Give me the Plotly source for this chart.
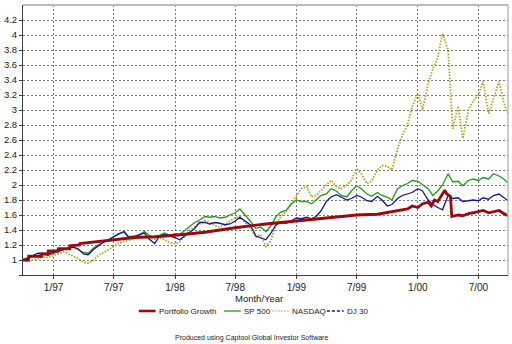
import plotly.graph_objects as go

# ---------------- data ----------------
dates = [
    "1996-10-01", "1996-10-15", "1996-11-01", "1996-11-15", "1996-12-01", "1996-12-15",
    "1997-01-01", "1997-01-15", "1997-02-01", "1997-02-15", "1997-03-01", "1997-03-15",
    "1997-04-01", "1997-04-15", "1997-05-01", "1997-05-15", "1997-06-01", "1997-06-15",
    "1997-07-01", "1997-07-15", "1997-08-01", "1997-08-15", "1997-09-01", "1997-09-15",
    "1997-10-01", "1997-10-15", "1997-11-01", "1997-11-15", "1997-12-01", "1997-12-15",
    "1998-01-01", "1998-01-15", "1998-02-01", "1998-02-15", "1998-03-01", "1998-03-15",
    "1998-04-01", "1998-04-15", "1998-05-01", "1998-05-15", "1998-06-01", "1998-06-15",
    "1998-07-01", "1998-07-15", "1998-08-01", "1998-08-15", "1998-09-01", "1998-09-15",
    "1998-10-01", "1998-10-15", "1998-11-01", "1998-11-15", "1998-12-01", "1998-12-15",
    "1999-01-01", "1999-01-15", "1999-02-01", "1999-02-15", "1999-03-01", "1999-03-15",
    "1999-04-01", "1999-04-15", "1999-05-01", "1999-05-15", "1999-06-01", "1999-06-15",
    "1999-07-01", "1999-07-15", "1999-08-01", "1999-08-15", "1999-09-01", "1999-09-15",
    "1999-10-01", "1999-10-15", "1999-11-01", "1999-11-15", "1999-12-01", "1999-12-15",
    "2000-01-01", "2000-01-15", "2000-02-01", "2000-02-15", "2000-03-01", "2000-03-15",
    "2000-04-01", "2000-04-15", "2000-05-01", "2000-05-15", "2000-06-01", "2000-06-15",
    "2000-07-01", "2000-07-15", "2000-08-01", "2000-08-15", "2000-09-01", "2000-09-15",
    "2000-09-28",
]

sp500 = [
    1.00, 1.02, 1.04, 1.06, 1.08, 1.06, 1.09, 1.12, 1.14, 1.16, 1.17, 1.14,
    1.10, 1.09, 1.16, 1.20, 1.24, 1.27, 1.31, 1.34, 1.37, 1.31, 1.32, 1.34,
    1.38, 1.33, 1.30, 1.33, 1.36, 1.33, 1.35, 1.34, 1.40, 1.46, 1.50, 1.53,
    1.58, 1.57, 1.58, 1.56, 1.57, 1.60, 1.63, 1.68, 1.60, 1.52, 1.42, 1.44,
    1.38, 1.45, 1.58, 1.64, 1.66, 1.74, 1.80, 1.78, 1.78, 1.75, 1.80, 1.86,
    1.88, 1.95, 1.92, 1.86, 1.84, 1.92, 1.99, 1.95, 1.88, 1.85, 1.90, 1.86,
    1.84, 1.80, 1.95, 1.99, 2.02, 2.06, 2.05, 2.00, 1.95, 1.86, 1.92, 2.00,
    2.15, 2.04, 2.05, 1.99, 2.06, 2.08, 2.06, 2.10, 2.08, 2.15, 2.12, 2.08,
    2.03,
]

nasdaq = [
    1.00, 0.98, 1.00, 1.02, 1.04, 1.03, 1.06, 1.09, 1.11, 1.08, 1.05, 1.02,
    0.97, 0.96, 1.00, 1.06, 1.10, 1.14, 1.18, 1.22, 1.25, 1.26, 1.29, 1.33,
    1.37, 1.30, 1.28, 1.30, 1.27, 1.23, 1.22, 1.24, 1.33, 1.40, 1.44, 1.48,
    1.52, 1.50, 1.46, 1.44, 1.47, 1.52, 1.56, 1.58, 1.50, 1.42, 1.30, 1.34,
    1.18, 1.25, 1.48, 1.58, 1.65, 1.74, 1.86, 1.95, 1.98, 1.84, 1.86, 1.92,
    2.00, 2.06, 1.98, 1.95, 2.00, 2.06, 2.22, 2.15, 2.02, 2.05, 2.20, 2.26,
    2.25, 2.20, 2.48, 2.66, 2.80, 3.05, 3.22, 3.00, 3.35, 3.55, 3.70, 4.02,
    3.80, 2.75, 3.05, 2.62, 3.00, 3.12, 3.20, 3.38, 2.95, 3.15, 3.38, 3.10,
    2.95,
]

dj30 = [
    1.00, 1.03, 1.06, 1.09, 1.09, 1.08, 1.10, 1.12, 1.15, 1.16, 1.17, 1.15,
    1.08, 1.07, 1.14, 1.19, 1.24, 1.27, 1.31, 1.35, 1.38, 1.30, 1.31, 1.33,
    1.36, 1.28, 1.22, 1.32, 1.34, 1.32, 1.30, 1.27, 1.33, 1.37, 1.42, 1.50,
    1.50, 1.48, 1.50, 1.49, 1.47, 1.48, 1.52, 1.57, 1.52, 1.47, 1.32, 1.30,
    1.27, 1.35, 1.47, 1.50, 1.49, 1.52, 1.56, 1.55, 1.57, 1.55, 1.58, 1.65,
    1.78, 1.84, 1.87, 1.84, 1.80, 1.82, 1.86, 1.84, 1.79, 1.78, 1.85, 1.80,
    1.72, 1.74, 1.82, 1.86, 1.88, 1.90, 1.95, 1.92, 1.80, 1.74, 1.70, 1.67,
    1.86, 1.82, 1.83, 1.78, 1.79, 1.80, 1.79, 1.83, 1.81, 1.86, 1.88, 1.83,
    1.79,
]

portfolio_dates = [
    "1996-10-01", "1996-10-17", "1996-10-18", "1996-11-26", "1996-11-27", "1996-12-15",
    "1996-12-16", "1997-01-14", "1997-01-15", "1997-02-18", "1997-02-19", "1997-03-20",
    "1997-03-21", "1997-05-01", "1997-07-01", "1997-09-01", "1997-11-01", "1998-01-01",
    "1998-04-01", "1998-07-01", "1998-10-01", "1999-01-01", "1999-04-01", "1999-07-01",
    "1999-09-01", "1999-10-01", "1999-11-01", "1999-12-01", "1999-12-15", "2000-01-01",
    "2000-01-15", "2000-02-01", "2000-02-10", "2000-02-20", "2000-03-01", "2000-03-10",
    "2000-03-22", "2000-03-28", "2000-04-08", "2000-04-12", "2000-05-01", "2000-05-15",
    "2000-06-01", "2000-06-15", "2000-07-01", "2000-07-15", "2000-08-01", "2000-08-15",
    "2000-09-01", "2000-09-15", "2000-09-28",
]
portfolio = [
    1.00, 1.00, 1.05, 1.05, 1.08, 1.08,
    1.12, 1.12, 1.15, 1.15, 1.19, 1.20,
    1.22, 1.24, 1.27, 1.30, 1.31, 1.33,
    1.37, 1.43, 1.48, 1.52, 1.56, 1.60,
    1.61, 1.63, 1.66, 1.68, 1.72, 1.70,
    1.75, 1.77, 1.72, 1.80, 1.78, 1.85,
    1.93, 1.88, 1.85, 1.58, 1.60, 1.59,
    1.62, 1.63, 1.65, 1.66, 1.63, 1.64,
    1.66, 1.62, 1.59,
]

tick_dates = ["1997-01-01", "1997-07-01", "1998-01-01", "1998-07-01",
              "1999-01-01", "1999-07-01", "2000-01-01", "2000-07-01"]
tick_labels = ["1/97", "7/97", "1/98", "7/98", "1/99", "7/99", "1/00", "7/00"]
y_ticks = [0.8, 1.0, 1.2, 1.4, 1.6, 1.8, 2.0, 2.2, 2.4, 2.6, 2.8, 3.0,
           3.2, 3.4, 3.6, 3.8, 4.0, 4.2]
y_labels = ["", "1", "1.2", "1.4", "1.6", "1.8", "2", "2.2", "2.4", "2.6", "2.8", "3",
            "3.2", "3.4", "3.6", "3.8", "4", "4.2"]

# ---------------- styling ----------------
W, H = 512, 344
L, R, T, B = 18, 508, 5, 275          # plot area in pixels
FONT = "Liberation Sans, Arial, sans-serif"
C_RED, C_GREEN, C_NAS, C_BLUE = "#9A0A0A", "#1F9A1F", "#ABA61C", "#14149A"
AXIS = "#404040"
GRID = "#7a7a7a"


def px_x(p):
    return (p - L) / (R - L)


def px_y(p):
    return (B - p) / (B - T)


fig = go.Figure()
fig.add_trace(go.Scatter(x=dates, y=nasdaq, mode="lines", name="NASDAQ",
                         line=dict(color=C_NAS, width=1.8, dash="1.5px,1.5px")))
fig.add_trace(go.Scatter(x=dates, y=sp500, mode="lines", name="SP 500",
                         line=dict(color=C_GREEN, width=1.3)))
fig.add_trace(go.Scatter(x=dates, y=dj30, mode="lines", name="DJ 30",
                         line=dict(color=C_BLUE, width=1.3)))
fig.add_trace(go.Scatter(x=portfolio_dates, y=portfolio, mode="lines",
                         name="Portfolio Growth",
                         line=dict(color=C_RED, width=2.8)))

shapes = [
    # light top / right border
    dict(type="line", xref="paper", yref="paper", x0=0, x1=1, y0=1, y1=1,
         line=dict(color="#BDBDBD", width=2)),
    dict(type="line", xref="paper", yref="paper", x0=1, x1=1, y0=0, y1=1,
         line=dict(color="#BDBDBD", width=1.5)),
]
annotations = [
    dict(text="Month/Year", xref="paper", yref="paper", x=px_x(256), y=px_y(298),
         showarrow=False, font=dict(family=FONT, size=9.5, color="#222"),
         xanchor="center", yanchor="middle"),
    dict(text="Produced using Captool Global Investor Software", xref="paper",
         yref="paper", x=px_x(249), y=px_y(338), showarrow=False,
         font=dict(family=FONT, size=7, color="#222"), xanchor="center",
         yanchor="middle"),
]

legend_items = [
    ("Portfolio Growth", C_RED, 2.6, "solid", 135, 152),
    ("SP 500", C_GREEN, 1.3, "solid", 221, 238),
    ("NASDAQ", C_NAS, 1.3, "1px,2px", 270, 287),
    ("DJ 30", C_BLUE, 1.3, "3px,2px", 325, 342),
]
LY = 311
for name, col, wd, dash, x0, x1 in legend_items:
    shapes.append(dict(type="line", xref="paper", yref="paper",
                       x0=px_x(x0), x1=px_x(x1), y0=px_y(LY), y1=px_y(LY),
                       line=dict(color=col, width=wd, dash=dash)))
    annotations.append(dict(text=name, xref="paper", yref="paper",
                            x=px_x(x1 + 1), y=px_y(LY), showarrow=False,
                            xanchor="left", yanchor="middle",
                            font=dict(family=FONT, size=8, color="#222")))

fig.update_layout(
    width=W, height=H,
    margin=dict(l=L, r=W - R, t=T, b=H - B, pad=0),
    paper_bgcolor="white", plot_bgcolor="white",
    showlegend=False,
    font=dict(family=FONT, color="#222"),
    shapes=shapes, annotations=annotations,
    xaxis=dict(type="date", range=["1996-10-01", "2000-09-28"],
               tickvals=tick_dates, ticktext=tick_labels,
               tickfont=dict(size=10, family=FONT, color="#222"),
               showgrid=True, gridcolor=GRID, griddash="2px,2px", gridwidth=1,
               showline=True, linecolor=AXIS, linewidth=1,
               ticks="outside", ticklen=3, tickcolor=AXIS,
               zeroline=False),
    yaxis=dict(range=[0.8, 4.4], tickvals=y_ticks, ticktext=y_labels,
               tickfont=dict(size=9.5, family=FONT, color="#222"),
               showgrid=True, gridcolor=GRID, griddash="2px,2px", gridwidth=1,
               showline=True, linecolor=AXIS, linewidth=1,
               ticks="outside", ticklen=3, tickcolor=AXIS,
               zeroline=False),
)

fig.write_html("out.html")
